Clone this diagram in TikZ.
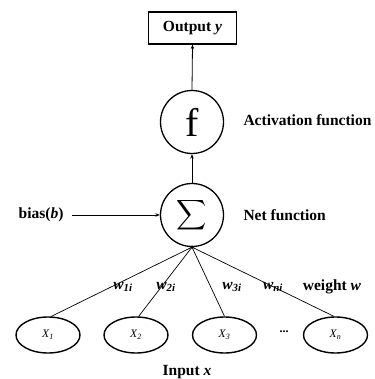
\documentclass[tikz,border=0pt]{standalone}
\usepackage{fontspec}
\setmainfont{Liberation Serif}
\usetikzlibrary{shapes.geometric,arrows.meta}
\begin{document}
\begin{tikzpicture}[x=1pt,y=-1pt,
  lbl/.style={font=\fontsize{15.5}{18}\selectfont\bfseries},
  neuron/.style={circle,draw,line width=1.3pt,minimum size=63pt,inner sep=0pt},
  inp/.style={ellipse,draw,line width=1.4pt,minimum width=64pt,minimum height=36pt,inner sep=0pt,font=\fontsize{11.5}{12}\selectfont\itshape},
  arr/.style={-{Stealth[length=4.5pt,width=3.5pt]},line width=0.8pt},
  wire/.style={line width=0.7pt},
  wl/.style={font=\fontsize{15.5}{18}\selectfont\bfseries\itshape}]
\useasboundingbox (0,0) rectangle (374,379);
\node[draw,line width=1.1pt,minimum width=88pt,minimum height=32pt,inner sep=0pt,lbl] (out) at (192.5,28) {Output \textit{y}};
\node[neuron,font=\fontsize{40}{40}\selectfont] (f) at (192,122) {f};
\node[neuron] (sig) at (192,215) {\scalebox{2.1}{$\displaystyle\sum$}};
\node[lbl,anchor=west] (act) at (240,120) {Activation function};
\node[lbl,anchor=west] (net) at (240,215) {Net function};
\node[lbl,anchor=east] (bias) at (67,215) {bias(\textit{b})};
\coordinate (bstart) at (72,215);
\node[inp] (x1) at (48,335) {X\textsubscript{1}};
\node[inp] (x2) at (136,335) {X\textsubscript{2}};
\node[inp] (x3) at (224.5,335) {X\textsubscript{3}};
\node[inp] (x4) at (335.5,335) {X\textsubscript{n}};
\node[lbl] (dots) at (284,332) {\fontsize{12}{12}\selectfont\bfseries...};
\node[lbl] (inlab) at (187,372) {Input \textit{x}};
\node[wl] (w1) at (123,287) {w\textsubscript{1i}};
\node[wl] (w2) at (166,287) {w\textsubscript{2i}};
\node[wl] (w3) at (232,287) {w\textsubscript{3i}};
\node[wl] (w4) at (273,287) {w\textsubscript{ni}};
\node[lbl] (ww) at (332,287) {weight \textit{w}};
\draw[arr] (f.north) -- (out.south);
\draw[arr] (sig.north) -- (f.south);
\draw[arr] (bstart) -- (sig.west);
\fill (sig.south) circle (1.8pt);
\draw[wire] (sig.south) -- (x1.80);
\draw[wire] (sig.south) -- (x2.82);
\draw[wire] (sig.south) -- (x3.north);
\draw[wire] (sig.south) -- (x4.95);
\end{tikzpicture}
\end{document}
